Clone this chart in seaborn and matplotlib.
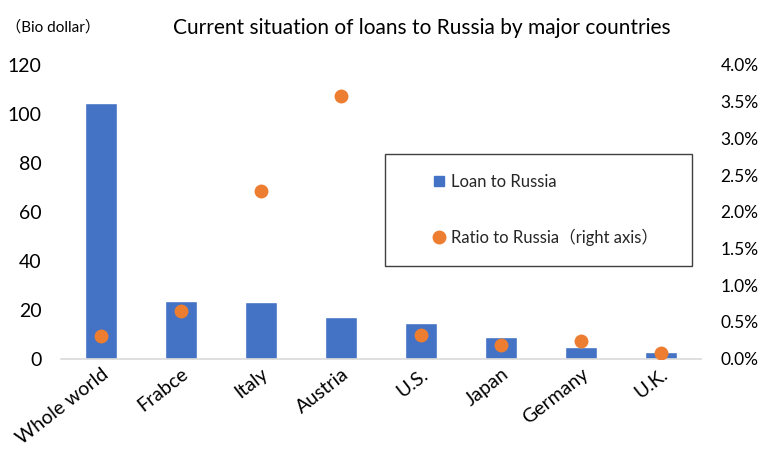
import matplotlib
matplotlib.use("Agg")
import matplotlib.pyplot as plt
from matplotlib.lines import Line2D
from matplotlib.patches import Rectangle
from matplotlib.ticker import FuncFormatter, MultipleLocator
import seaborn as sns
import pandas as pd

countries = ["Whole world", "Frabce", "Italy", "Austria", "U.S.", "Japan", "Germany", "U.K."]
loans_bn_usd = [104.5, 23.5, 23.1, 16.8, 14.4, 8.9, 4.8, 2.8]
ratio_pct = [0.30, 0.65, 2.28, 3.58, 0.32, 0.18, 0.24, 0.07]

bar_color = "#4472C4"
dot_color = "#ED7D31"

sns.set_theme(style="white")
plt.rcParams["font.family"] = ["Lato", "Noto Sans CJK JP", "DejaVu Sans"]

df = pd.DataFrame({"country": countries, "loan": loans_bn_usd, "ratio": ratio_pct})

fig = plt.figure(figsize=(7.63, 4.5), dpi=100)
ax = fig.add_axes([61 / 763, 1 - 358.5 / 450, 640 / 763, (358.5 - 65) / 450])

sns.barplot(data=df, x="country", y="loan", color=bar_color, width=0.4,
            saturation=1, ax=ax)
ax.set_ylim(0, 120)
ax.yaxis.set_major_locator(MultipleLocator(20))

ax2 = ax.twinx()
sns.pointplot(data=df, x="country", y="ratio", color=dot_color, linestyle="none",
              markers="o", markersize=10, markeredgewidth=0, ax=ax2)
ax2.set_ylim(0, 4.0)
ax2.yaxis.set_major_locator(MultipleLocator(0.5))
ax2.yaxis.set_major_formatter(FuncFormatter(lambda v, p: f"{v:.1f}%"))

ax.set_xlim(-0.5, len(countries) - 0.5)
ax2.set_xlim(-0.5, len(countries) - 0.5)

for a in (ax, ax2):
    a.set_xlabel("")
    a.set_ylabel("")
    for s in ("top", "left", "right"):
        a.spines[s].set_visible(False)
    a.spines["bottom"].set_color("#D9D9D9")
    a.spines["bottom"].set_linewidth(1.2)
    a.grid(False)
ax2.spines["bottom"].set_visible(False)

ax.tick_params(axis="y", length=0, pad=14, labelsize=14, labelcolor="black")
ax2.tick_params(axis="y", length=0, pad=14, labelsize=12.5, labelcolor="black")
ax.tick_params(axis="x", length=0, pad=5, labelsize=14, labelcolor="black")
ax.set_xticks(range(len(countries)))
ax.set_xticklabels(countries, rotation=38, ha="right", rotation_mode="anchor")

fig.text(422 / 763, 1 - 28 / 450, "Current situation of loans to Russia by major countries",
         ha="center", va="center", fontsize=15, color="black")
fig.text(6 / 763, 1 - 27 / 450, "（Bio dollar）", ha="left", va="center",
         fontsize=11, color="black")

fig.patches.append(Rectangle((385 / 763, 1 - 266 / 450), (692 - 385) / 763, (266 - 154) / 450,
                             transform=fig.transFigure, fill=False, edgecolor="#404040",
                             linewidth=1.0))
handles = [
    Line2D([], [], linestyle="none", marker="s", markersize=7.5, color=bar_color),
    Line2D([], [], linestyle="none", marker="o", markersize=10, markeredgewidth=0,
           color=dot_color),
]
fig.legend(handles, ["Loan to Russia", "Ratio to Russia（right axis）"],
           loc="center left", bbox_to_anchor=(424 / 763, 1 - 210 / 450),
           frameon=False, fontsize=12, labelspacing=2.3, handlelength=0.8,
           handletextpad=0.3, borderpad=0)

fig.savefig("out.png", dpi=100)
